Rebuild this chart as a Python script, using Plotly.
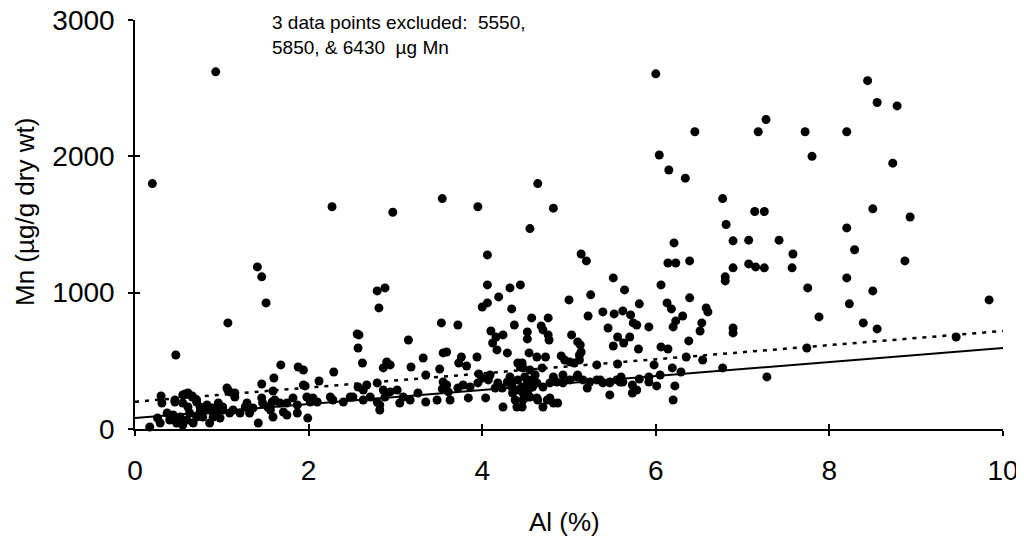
import plotly.graph_objects as go

# Al (%) and Mn (ug/g dry wt) values
al = [
    0.93, 0.20, 2.27, 2.97, 3.54, 3.95, 4.64, 4.55, 4.82,
    6.00, 8.44, 8.55, 8.78, 7.27, 6.45, 7.18, 7.72, 8.20, 6.04, 7.80, 8.73, 6.15, 6.34, 6.77, 7.14, 7.25, 8.50, 8.93, 6.81, 8.20, 6.21, 6.89, 7.07, 7.42, 8.29,
    7.58, 6.14, 6.23, 6.39, 7.07, 7.15, 7.25, 6.89, 7.57, 6.80, 6.80, 5.51, 6.06, 8.20, 5.64, 7.75, 5.39, 5.52, 5.62, 5.71, 5.81, 6.13, 6.18, 6.39, 6.31, 6.23, 5.74, 5.78, 5.45, 5.92, 6.20, 6.58, 6.60, 6.53, 6.51, 6.89, 6.89, 7.88, 5.56, 5.63, 5.70, 6.38, 5.51, 5.80, 6.06, 6.14, 6.35, 6.54, 7.74, 5.56, 5.98, 6.19, 6.29, 6.77, 6.05, 5.36, 5.47, 5.60, 5.59, 5.73, 5.81, 5.92, 5.92, 6.01, 6.22, 5.47, 5.73, 5.78, 6.20, 7.28,
    8.87, 8.50, 8.23, 9.84, 8.39, 8.55, 9.46,
    4.06, 5.14, 5.20, 2.79, 2.88, 2.81, 4.06, 4.32, 4.44, 4.19, 4.06, 4.00, 4.34, 5.00, 5.25, 5.22, 3.53, 3.72, 4.37, 4.57, 4.68, 4.76, 4.70, 4.76, 4.77, 4.10, 4.16, 4.24, 4.52, 4.52, 5.03, 3.15, 3.59, 3.55, 4.12, 4.17, 4.29, 3.32, 3.76, 3.94, 2.90, 2.94, 2.86, 3.18, 3.73, 3.82, 3.51, 4.63, 4.73, 4.91, 4.95, 5.06, 5.12, 5.12, 4.46, 4.47, 4.69, 3.35, 3.96, 4.09, 4.82, 5.32, 4.54, 5.01, 5.13, 5.14, 5.10,
    2.79, 2.86, 2.88, 2.82, 2.94, 3.02, 3.05, 3.09, 3.17, 3.26, 3.35, 3.48, 3.54, 3.59, 3.61, 3.63, 3.55, 3.72, 3.78, 3.84, 3.86, 3.95, 4.00, 4.04, 4.07, 4.15, 4.18, 4.24, 4.23,
    4.29, 4.32, 4.34, 4.35, 4.38, 4.40, 4.41, 4.44, 4.46, 4.47, 4.47, 4.49, 4.52, 4.53, 4.55, 4.57, 4.58, 4.41, 4.40, 4.46, 4.52, 4.35, 4.55, 4.61, 4.63,
    4.63, 4.64, 4.70, 4.75, 4.78, 4.82, 4.87,
    4.70, 4.78, 4.86, 4.93, 5.01, 5.09, 5.16, 5.24, 5.32, 5.39, 5.47, 5.55, 5.62, 5.21, 4.93, 5.10, 2.82,
    1.41, 1.46, 1.51, 1.07, 0.47, 2.56, 2.58, 2.57, 2.62, 1.68, 1.88, 1.94, 2.29, 1.60, 1.46, 2.12, 1.96, 1.06, 1.09, 1.15, 1.59, 2.57, 2.63, 2.67, 0.30, 0.31, 0.58, 0.66, 0.46, 0.55, 0.61, 0.71, 0.75, 0.83, 0.89, 0.96, 0.98, 1.01, 1.15, 1.29, 1.29, 1.46, 1.47, 1.53, 1.58, 1.61, 1.67, 1.75, 1.82, 1.87, 1.98, 2.02, 2.05, 2.10, 2.25, 2.28, 2.40, 2.48, 2.51, 2.63, 2.71, 2.79,
    0.17, 0.29, 0.26, 0.37, 0.40, 0.44, 0.48, 0.52, 0.55, 0.60, 0.63, 0.67, 0.71, 0.75, 0.78, 0.84, 0.86, 0.90, 0.94, 0.98, 1.01, 1.09, 1.13, 1.21, 1.27, 1.42, 1.32, 1.36, 1.56, 1.59, 1.71, 1.75, 1.87, 1.99,
    0.46, 0.55, 0.61, 0.66, 0.71, 1.07, 1.94,
]
mn = [
    2620, 1800, 1630, 1590, 1690, 1630, 1800, 1470, 1620,
    2605, 2555, 2395, 2370, 2270, 2180, 2180, 2180, 2180, 2010, 2000, 1950, 1900, 1840, 1690, 1595, 1595, 1615, 1555, 1500, 1475, 1365, 1380, 1385, 1385, 1315,
    1284, 1218, 1218, 1233, 1211, 1189, 1182, 1182, 1182, 1116, 1086, 1108, 1057, 1108, 1020, 1035, 859, 844, 866, 837, 918, 925, 881, 962, 829, 793, 778, 763, 741, 749, 749, 888, 859, 778, 719, 741, 705, 822, 675, 631, 675, 646, 609, 587, 602, 587, 528, 506, 594, 477, 470, 448, 418, 448, 396, 360, 338, 382, 345, 323, 367, 382, 345, 316, 316, 250, 264, 286, 213, 382,
    1233, 1013, 918, 947, 778, 734, 675,
    1277, 1284, 1233, 1013, 1035, 888, 1057, 1035, 1057, 969, 925, 895, 881, 947, 984, 829, 778, 763, 763, 815, 756, 815, 727, 690, 653, 719, 675, 690, 712, 661, 690, 653, 565, 558, 631, 580, 558, 521, 528, 528, 492, 470, 448, 455, 484, 462, 440, 528, 528, 536, 506, 484, 543, 506, 484, 448, 448, 396, 404, 396, 382, 470, 558, 492, 617, 565, 639,
    338, 286, 235, 176, 272, 286, 191, 235, 213, 264, 198, 213, 294, 323, 272, 213, 345, 301, 323, 228, 308, 338, 374, 228, 360, 301, 338, 161, 301,
    345, 382, 308, 264, 213, 161, 360, 455, 308, 264, 213, 382, 338, 286, 433, 360, 308, 484, 286, 161, 235, 345, 235, 396, 338,
    228, 213, 161, 213, 228, 191, 191,
    308, 338, 345, 338, 360, 382, 360, 345, 360, 338, 345, 360, 345, 301, 396, 396, 139,
    1189, 1116, 925, 778, 543, 697, 690, 594, 484, 470, 455, 433, 418, 374, 330, 352, 316, 301, 272, 264, 279, 308, 286, 323, 242, 191, 257, 242, 198, 191, 161, 198, 161, 176, 154, 191, 161, 161, 235, 161, 191, 228, 191, 161, 198, 213, 191, 191, 228, 176, 235, 198, 228, 198, 235, 213, 198, 235, 235, 213, 235, 198,
    15, 44, 81, 117, 66, 103, 44, 88, 29, 66, 117, 44, 88, 125, 88, 139, 44, 88, 117, 81, 139, 117, 139, 117, 161, 44, 117, 154, 139, 88, 125, 103, 117, 80,
    213, 250, 264, 235, 213, 286, 323,
]

# Regression lines (endpoints at Al = 0 and 10)
fit_al = [0, 10]
fit_solid = [80, 594]
fit_dotted = [200, 719]

x_ticks = [0, 2, 4, 6, 8, 10]
y_ticks = [0, 1000, 2000, 3000]

FONT = "Liberation Sans, Arial, Helvetica, sans-serif"

fig = go.Figure()
fig.add_trace(go.Scatter(x=fit_al, y=fit_dotted, mode="lines",
                         line=dict(color="black", width=2.5, dash="4px,6px"),
                         hoverinfo="skip"))
fig.add_trace(go.Scatter(x=fit_al, y=fit_solid, mode="lines",
                         line=dict(color="black", width=2),
                         hoverinfo="skip"))
fig.add_trace(go.Scatter(x=al, y=mn, mode="markers",
                         marker=dict(color="black", size=9, line=dict(width=0)),
                         cliponaxis=False))

axis_common = dict(showgrid=False, zeroline=False, showline=True, automargin=False,
                   ticklabeloverflow="allow",
                   linecolor="black", linewidth=1.5,
                   ticks="outside", ticklen=5, tickwidth=1.5, tickcolor="black",
                   tickfont=dict(family=FONT, size=28, color="black"))

# the page body has an 8px default margin, so the figure is sized to sit inside it
fig.update_layout(
    width=1016, height=535,
    margin=dict(l=127, r=21, t=12, b=114),
    paper_bgcolor="white", plot_bgcolor="white",
    showlegend=False,
    font=dict(family=FONT, color="black"),
    xaxis=dict(range=[0, 10], tickvals=x_ticks, ticktext=[str(v) for v in x_ticks],
               ticklabelstandoff=11, **axis_common),
    yaxis=dict(range=[0, 3000], tickvals=y_ticks, ticktext=[str(v) for v in y_ticks],
               ticklabelstandoff=8, **axis_common),
    xaxis2=dict(overlaying="x", matches="x", range=[0, 10], tickvals=x_ticks,
                showticklabels=False, ticks="inside", ticklen=5, tickwidth=1.5,
                tickcolor="black", showline=False, showgrid=False, zeroline=False,
                automargin=False),
    yaxis2=dict(overlaying="y", matches="y", range=[0, 3000], tickvals=y_ticks,
                showticklabels=False, ticks="inside", ticklen=5, tickwidth=1.5,
                tickcolor="black", showline=False, showgrid=False, zeroline=False,
                automargin=False),
    annotations=[
        dict(text="Mn (µg/g dry wt)", xref="paper", yref="paper",
             x=-0.127, y=0.53, textangle=-90, showarrow=False,
             xanchor="center", yanchor="middle",
             font=dict(family=FONT, size=26, color="black")),
        dict(text="Al (%)", xref="paper", yref="paper",
             x=0.495, y=-0.227, showarrow=False,
             xanchor="center", yanchor="middle",
             font=dict(family=FONT, size=26, color="black")),
        dict(text="3 data points excluded:  5550,<br>5850, & 6430  µg Mn",
             xref="paper", yref="paper", x=0.1555, y=0.963,
             xanchor="left", yanchor="middle", align="left", showarrow=False,
             font=dict(family=FONT, size=19, color="black")),
    ],
)
# dummy trace so the overlay axes render their inside ticks
fig.add_trace(go.Scatter(x=[None], y=[None], xaxis="x2", yaxis="y2",
                         mode="markers", hoverinfo="skip"))

fig.write_html("out.html")
